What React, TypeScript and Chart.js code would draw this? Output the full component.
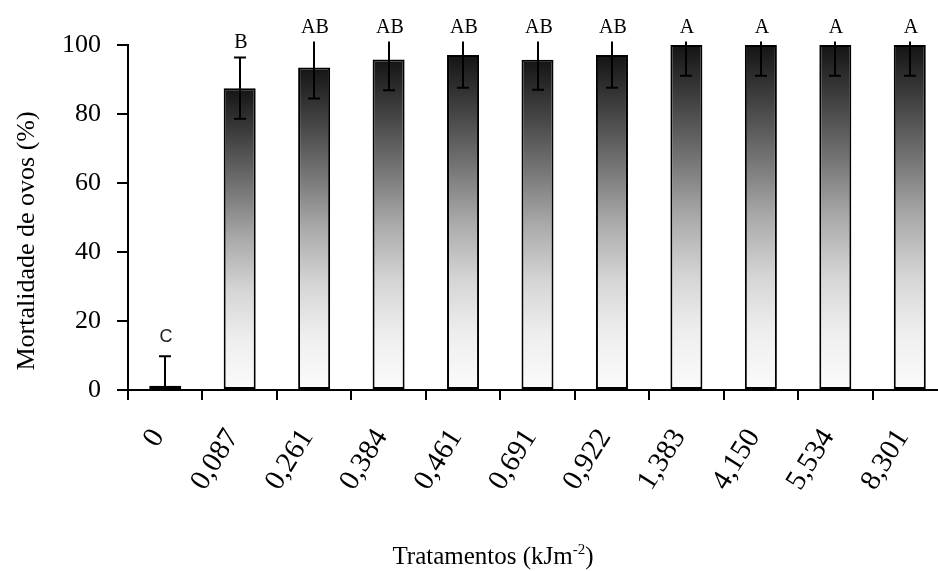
import { useEffect, useRef } from 'react';
import { Chart, registerables } from 'chart.js';

Chart.register(...registerables);

// UV-C dose treatments (kJ m^-2) and egg mortality (%)
const treatments = ['0', '0,087', '0,261', '0,384', '0,461', '0,691', '0,922', '1,383', '4,150', '5,534', '8,301'];
const mortality = [1.2, 87.5, 93.5, 95.8, 97.1, 95.7, 97.1, 100, 100, 100, 100];
const stdDev = [8.6, 8.9, 9.0, 8.9, 9.5, 8.7, 9.5, 8.9, 8.9, 8.9, 8.9];
const groups = ['C', 'B', 'AB', 'AB', 'AB', 'AB', 'AB', 'A', 'A', 'A', 'A'];
const yMin = 0;
const yMax = 100;
const yStep = 20;
const errorCeiling = 101;

const yTitle = 'Mortalidade de ovos (%)';
const xTitleMain = 'Tratamentos (kJm';
const xTitleSup = '-2';
const xTitleEnd = ')';

const SERIF = '"Liberation Serif", "Times New Roman", serif';

function barGradient(ctx: any) {
  const chart = ctx.chart;
  const y = chart.scales?.y;
  if (!y || ctx.parsed == null) return '#888';
  const top = y.getPixelForValue(ctx.parsed.y);
  const base = y.getPixelForValue(0);
  if (!Number.isFinite(top) || !Number.isFinite(base)) return '#888';
  const g = chart.ctx.createLinearGradient(0, top, 0, Math.max(base, top + 1));
  g.addColorStop(0, '#141414');
  g.addColorStop(0.17, '#444444');
  g.addColorStop(0.34, '#777777');
  g.addColorStop(0.5, '#aaaaaa');
  g.addColorStop(0.67, '#d5d5d5');
  g.addColorStop(0.83, '#eeeeee');
  g.addColorStop(1, '#fbfbfb');
  return g;
}

// Error bars (clipped to the plotted range), significance letters and axis titles
const annotations = {
  id: 'annotations',
  afterDatasetsDraw(chart: any) {
    const { ctx, scales } = chart;
    const y = scales.y;
    const meta = chart.getDatasetMeta(0);
    ctx.save();
    ctx.strokeStyle = '#000';
    ctx.lineWidth = 2;
    meta.data.forEach((bar: any, i: number) => {
      const hi = mortality[i] + stdDev[i];
      const lo = mortality[i] - stdDev[i];
      const topClipped = hi > errorCeiling;
      const botClipped = lo < yMin;
      const yTop = y.getPixelForValue(Math.min(hi, errorCeiling));
      const yBot = y.getPixelForValue(Math.max(lo, yMin));
      const x = Math.round(bar.x);
      ctx.beginPath();
      ctx.moveTo(x, yTop);
      ctx.lineTo(x, yBot);
      if (!botClipped) {
        ctx.moveTo(x - 6, yBot);
        ctx.lineTo(x + 6, yBot);
      }
      if (!topClipped) {
        ctx.moveTo(x - 6, yTop);
        ctx.lineTo(x + 6, yTop);
      }
      ctx.stroke();

      const isC = groups[i] === 'C';
      ctx.font = isC ? '18px "Liberation Sans", Arial, sans-serif' : '20px ' + SERIF;
      ctx.fillStyle = isC ? '#222' : '#000';
      ctx.textAlign = 'center';
      ctx.textBaseline = 'alphabetic';
      ctx.fillText(groups[i], x + 1, yTop - (isC ? 14 : 9));
    });
    ctx.restore();
  },
  afterDraw(chart: any) {
    const { ctx, chartArea } = chart;
    ctx.save();
    ctx.fillStyle = '#000';

    // y title
    ctx.font = '26px ' + SERIF;
    ctx.textAlign = 'center';
    ctx.textBaseline = 'middle';
    ctx.translate(27, chartArea.top + 196);
    ctx.rotate(-Math.PI / 2);
    ctx.fillText(yTitle, 0, 0);
    ctx.setTransform(1, 0, 0, 1, 0, 0);

    // x title with superscript
    const mainFont = '25px ' + SERIF;
    const supFont = '15px ' + SERIF;
    ctx.font = mainFont;
    const wMain = ctx.measureText(xTitleMain).width;
    const wEnd = ctx.measureText(xTitleEnd).width;
    ctx.font = supFont;
    const wSup = ctx.measureText(xTitleSup).width;
    const total = wMain + wSup + wEnd;
    const cx = chartArea.left + 365;
    const baseY = chartArea.bottom + 174;
    let x = cx - total / 2;
    ctx.textAlign = 'left';
    ctx.textBaseline = 'alphabetic';
    ctx.font = mainFont;
    ctx.fillText(xTitleMain, x, baseY);
    x += wMain;
    ctx.font = supFont;
    ctx.fillText(xTitleSup, x, baseY - 10);
    x += wSup;
    ctx.font = mainFont;
    ctx.fillText(xTitleEnd, x, baseY);
    ctx.restore();
  },
};

export default function App() {
  const canvasRef = useRef<HTMLCanvasElement | null>(null);

  useEffect(() => {
    if (!canvasRef.current) return;
    const chart = new Chart(canvasRef.current, {
      type: 'bar',
      data: {
        labels: treatments,
        datasets: [
          {
            data: mortality,
            backgroundColor: barGradient,
            borderColor: '#000',
            borderWidth: 2,
            borderSkipped: false,
            barPercentage: 0.43,
            categoryPercentage: 1,
          },
        ],
      },
      options: {
        responsive: false,
        animation: false,
        devicePixelRatio: 1,
        layout: { padding: { top: 45, right: 3, left: 0, bottom: 0 } },
        plugins: {
          legend: { display: false },
          tooltip: { enabled: false },
          title: { display: false },
        },
        scales: {
          x: {
            offset: true,
            afterFit(scale: any) {
              scale.height = 181;
              scale.paddingLeft = 0;
              scale.paddingRight = 0;
            },
            border: { display: true, color: '#000', width: 2 },
            grid: {
              offset: true,
              drawOnChartArea: false,
              drawTicks: true,
              tickLength: 10,
              color: '#000',
              lineWidth: 2,
            },
            ticks: {
              color: '#000',
              font: { family: SERIF, size: 29 },
              minRotation: 58,
              maxRotation: 58,
              padding: 23,
              labelOffset: -7,
              autoSkip: false,
            },
          },
          y: {
            min: yMin,
            max: yMax,
            afterFit(scale: any) {
              scale.width = 128;
            },
            border: { display: true, color: '#000', width: 2 },
            grid: {
              drawOnChartArea: false,
              drawTicks: true,
              tickLength: 11,
              color: '#000',
              lineWidth: 2,
            },
            ticks: {
              stepSize: yStep,
              color: '#000',
              font: { family: SERIF, size: 26 },
              padding: 16,
            },
          },
        },
      },
      plugins: [annotations],
    });
    return () => chart.destroy();
  }, []);

  return (
    <div
      style={{
        position: 'fixed',
        left: 0,
        top: 0,
        width: 938,
        height: 571,
        overflow: 'hidden',
        background: '#fff',
      }}
    >
      <canvas ref={canvasRef} width={950} height={571} style={{ display: 'block', width: 950, height: 571 }} />
    </div>
  );
}
